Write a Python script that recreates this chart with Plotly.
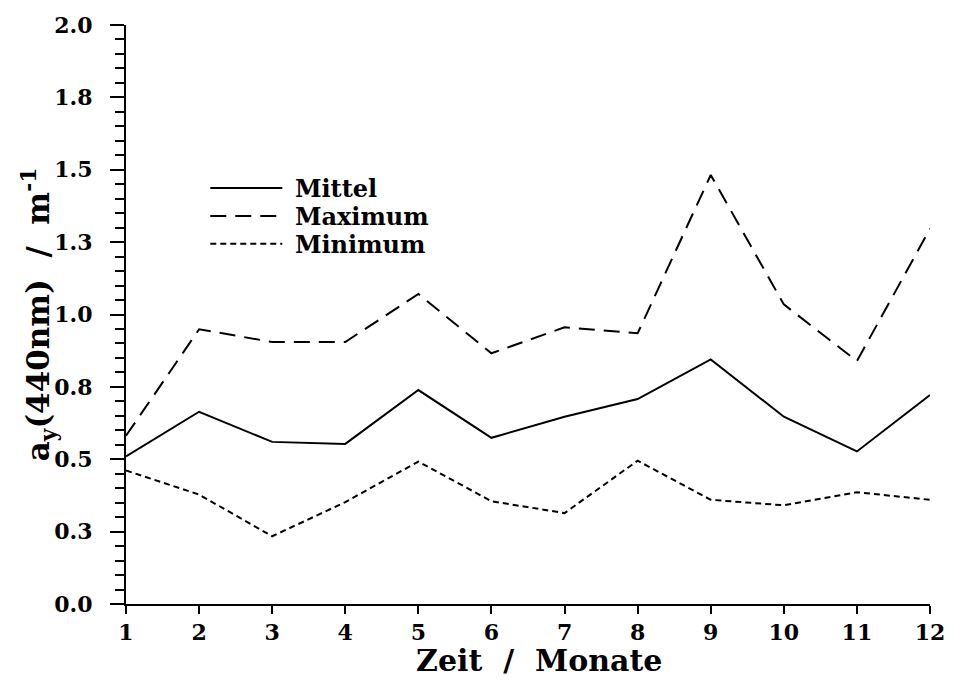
import plotly.graph_objects as go

months = [1, 2, 3, 4, 5, 6, 7, 8, 9, 10, 11, 12]
mittel = [0.510, 0.664, 0.560, 0.553, 0.739, 0.574, 0.647, 0.708, 0.845, 0.647, 0.527, 0.722]
maximum = [0.581, 0.949, 0.905, 0.905, 1.071, 0.866, 0.956, 0.935, 1.482, 1.035, 0.839, 1.296]
minimum = [0.461, 0.378, 0.234, 0.352, 0.492, 0.355, 0.314, 0.495, 0.360, 0.341, 0.386, 0.360]

ytickvals = [0, 0.25, 0.5, 0.75, 1.0, 1.25, 1.5, 1.75, 2.0]
yticktext = ["0.0", "0.3", "0.5", "0.8", "1.0", "1.3", "1.5", "1.8", "2.0"]
xticktext = [str(m) for m in months]
legend_names = ["Mittel", "Maximum", "Minimum"]

FONT = "DejaVu Serif"
TICKFONT = dict(family=FONT, size=22, color="black", weight="bold")

series = [mittel, maximum, minimum]
dashes = ["solid", "16px,9px", "6px,4px"]
legend_ids = ["legend", "legend2", "legend3"]
legend_rows_px = [187, 215, 243]

fig = go.Figure()
for vals, nm, dsh, lid in zip(series, legend_names, dashes, legend_ids):
    fig.add_trace(go.Scatter(x=months, y=vals, mode="lines",
                             name="\u00a0<b>" + nm + "</b>", legend=lid,
                             line=dict(color="black", width=2, dash=dsh)))

plot_top, plot_bottom = 23, 604
ph = plot_bottom - plot_top

def legend_cfg(ypx):
    return dict(x=0.0986, y=(plot_bottom - ypx) / ph, xanchor="left", yanchor="middle",
                bgcolor="rgba(0,0,0,0)", font=dict(family=FONT, size=24, color="black"),
                itemwidth=72, tracegroupgap=0)

fig.update_layout(
    width=957, height=681,
    margin=dict(l=126, r=20, t=23, b=77),
    paper_bgcolor="white", plot_bgcolor="white",
    font=dict(family=FONT, color="black", size=20),
    showlegend=True,
    legend=legend_cfg(legend_rows_px[0]),
    legend2=legend_cfg(legend_rows_px[1]),
    legend3=legend_cfg(legend_rows_px[2]),
    xaxis=dict(range=[1, 12], tickmode="array", tickvals=months, ticktext=xticktext,
               showgrid=False, zeroline=False, showline=True, linecolor="black", linewidth=2,
               ticks="outside", ticklen=8, tickwidth=2, tickcolor="black",
               tickfont=TICKFONT, ticklabelstandoff=0),
    yaxis=dict(range=[0, 2], tickmode="array", tickvals=ytickvals, ticktext=yticktext,
               showgrid=False, zeroline=False, showline=True, linecolor="black", linewidth=2,
               ticks="outside", ticklen=14, tickwidth=2, tickcolor="black",
               tickfont=TICKFONT, ticklabelstandoff=13,
               minor=dict(tickmode="linear", tick0=0, dtick=0.05, ticks="outside",
                          ticklen=9, tickwidth=1.5, tickcolor="black", showgrid=False)),
)

fig.add_annotation(text="<b>Zeit\u00a0\u00a0/\u00a0\u00a0Monate</b>", xref="paper", yref="paper",
                   x=(543 - 126) / 811, y=(plot_bottom - 680) / ph, xanchor="center", yanchor="bottom",
                   showarrow=False, font=dict(family=FONT, size=30, color="black"))
fig.add_annotation(text="<b>a<sub>y</sub>(440nm)\u00a0\u00a0/\u00a0\u00a0m<sup>-1</sup></b>",
                   xref="paper", yref="paper", x=(38 - 126) / 811, y=0.5,
                   xanchor="center", yanchor="middle", textangle=-90,
                   showarrow=False, font=dict(family=FONT, size=31, color="black"))

fig.write_html("out.html")
